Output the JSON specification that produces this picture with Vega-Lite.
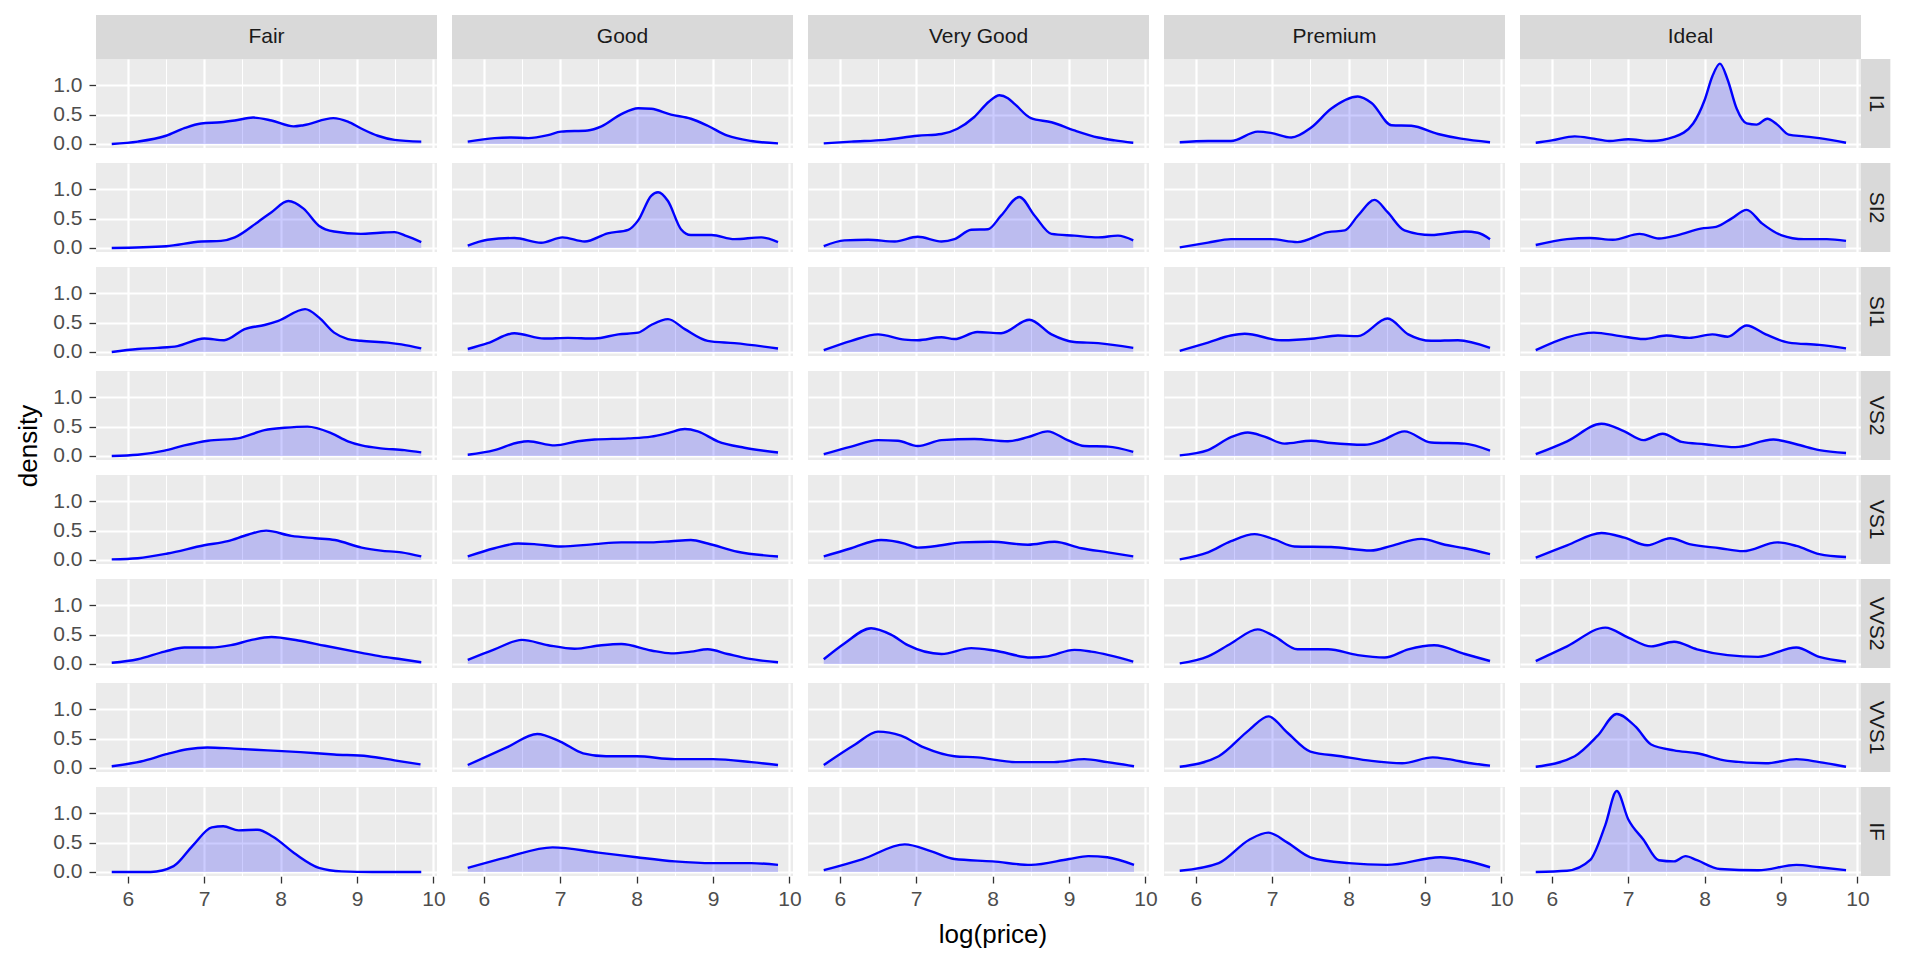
{
"$schema": "https://vega.github.io/schema/vega-lite/v6.json",
"padding": {"left": 15, "top": 15, "right": 0, "bottom": 0},
"bounds": "flush",
"spacing": {"row": 15, "column": 15},
"data": {"values": [
{"cut":"Fair","clarity":"I1","x":5.79,"d":0},{"cut":"Fair","clarity":"I1","x":6.13,"d":0.04},{"cut":"Fair","clarity":"I1","x":6.5,"d":0.14},{"cut":"Fair","clarity":"I1","x":6.74,"d":0.27},{"cut":"Fair","clarity":"I1","x":6.96,"d":0.35},{"cut":"Fair","clarity":"I1","x":7.22,"d":0.37},{"cut":"Fair","clarity":"I1","x":7.4,"d":0.4},{"cut":"Fair","clarity":"I1","x":7.64,"d":0.45},{"cut":"Fair","clarity":"I1","x":7.88,"d":0.4},{"cut":"Fair","clarity":"I1","x":8.17,"d":0.3},{"cut":"Fair","clarity":"I1","x":8.3,"d":0.32},{"cut":"Fair","clarity":"I1","x":8.69,"d":0.44},{"cut":"Fair","clarity":"I1","x":8.88,"d":0.38},{"cut":"Fair","clarity":"I1","x":9.06,"d":0.26},{"cut":"Fair","clarity":"I1","x":9.27,"d":0.14},{"cut":"Fair","clarity":"I1","x":9.49,"d":0.07},{"cut":"Fair","clarity":"I1","x":9.84,"d":0.04},
{"cut":"Fair","clarity":"SI2","x":5.79,"d":0},{"cut":"Fair","clarity":"SI2","x":6.5,"d":0.03},{"cut":"Fair","clarity":"SI2","x":6.96,"d":0.11},{"cut":"Fair","clarity":"SI2","x":7.22,"d":0.12},{"cut":"Fair","clarity":"SI2","x":7.4,"d":0.18},{"cut":"Fair","clarity":"SI2","x":7.7,"d":0.44},{"cut":"Fair","clarity":"SI2","x":7.88,"d":0.61},{"cut":"Fair","clarity":"SI2","x":8.1,"d":0.8},{"cut":"Fair","clarity":"SI2","x":8.3,"d":0.67},{"cut":"Fair","clarity":"SI2","x":8.5,"d":0.38},{"cut":"Fair","clarity":"SI2","x":8.7,"d":0.28},{"cut":"Fair","clarity":"SI2","x":9.05,"d":0.24},{"cut":"Fair","clarity":"SI2","x":9.3,"d":0.26},{"cut":"Fair","clarity":"SI2","x":9.49,"d":0.27},{"cut":"Fair","clarity":"SI2","x":9.65,"d":0.2},{"cut":"Fair","clarity":"SI2","x":9.84,"d":0.1},
{"cut":"Fair","clarity":"SI1","x":5.79,"d":0},{"cut":"Fair","clarity":"SI1","x":6.13,"d":0.05},{"cut":"Fair","clarity":"SI1","x":6.39,"d":0.07},{"cut":"Fair","clarity":"SI1","x":6.65,"d":0.1},{"cut":"Fair","clarity":"SI1","x":7.0,"d":0.23},{"cut":"Fair","clarity":"SI1","x":7.26,"d":0.2},{"cut":"Fair","clarity":"SI1","x":7.53,"d":0.39},{"cut":"Fair","clarity":"SI1","x":7.79,"d":0.46},{"cut":"Fair","clarity":"SI1","x":7.97,"d":0.53},{"cut":"Fair","clarity":"SI1","x":8.32,"d":0.73},{"cut":"Fair","clarity":"SI1","x":8.5,"d":0.59},{"cut":"Fair","clarity":"SI1","x":8.7,"d":0.33},{"cut":"Fair","clarity":"SI1","x":8.88,"d":0.22},{"cut":"Fair","clarity":"SI1","x":9.05,"d":0.19},{"cut":"Fair","clarity":"SI1","x":9.4,"d":0.16},{"cut":"Fair","clarity":"SI1","x":9.58,"d":0.13},{"cut":"Fair","clarity":"SI1","x":9.84,"d":0.06},
{"cut":"Fair","clarity":"VS2","x":5.79,"d":0},{"cut":"Fair","clarity":"VS2","x":6.13,"d":0.02},{"cut":"Fair","clarity":"VS2","x":6.48,"d":0.09},{"cut":"Fair","clarity":"VS2","x":6.74,"d":0.18},{"cut":"Fair","clarity":"VS2","x":7.05,"d":0.26},{"cut":"Fair","clarity":"VS2","x":7.44,"d":0.3},{"cut":"Fair","clarity":"VS2","x":7.79,"d":0.44},{"cut":"Fair","clarity":"VS2","x":8.05,"d":0.48},{"cut":"Fair","clarity":"VS2","x":8.35,"d":0.5},{"cut":"Fair","clarity":"VS2","x":8.66,"d":0.39},{"cut":"Fair","clarity":"VS2","x":8.88,"d":0.25},{"cut":"Fair","clarity":"VS2","x":9.06,"d":0.18},{"cut":"Fair","clarity":"VS2","x":9.31,"d":0.13},{"cut":"Fair","clarity":"VS2","x":9.62,"d":0.1},{"cut":"Fair","clarity":"VS2","x":9.84,"d":0.06},
{"cut":"Fair","clarity":"VS1","x":5.79,"d":0.01},{"cut":"Fair","clarity":"VS1","x":6.13,"d":0.03},{"cut":"Fair","clarity":"VS1","x":6.52,"d":0.11},{"cut":"Fair","clarity":"VS1","x":7.0,"d":0.25},{"cut":"Fair","clarity":"VS1","x":7.31,"d":0.32},{"cut":"Fair","clarity":"VS1","x":7.57,"d":0.43},{"cut":"Fair","clarity":"VS1","x":7.81,"d":0.5},{"cut":"Fair","clarity":"VS1","x":8.14,"d":0.41},{"cut":"Fair","clarity":"VS1","x":8.45,"d":0.37},{"cut":"Fair","clarity":"VS1","x":8.71,"d":0.34},{"cut":"Fair","clarity":"VS1","x":9.06,"d":0.21},{"cut":"Fair","clarity":"VS1","x":9.31,"d":0.16},{"cut":"Fair","clarity":"VS1","x":9.58,"d":0.13},{"cut":"Fair","clarity":"VS1","x":9.84,"d":0.06},
{"cut":"Fair","clarity":"VVS2","x":5.79,"d":0.02},{"cut":"Fair","clarity":"VVS2","x":6.13,"d":0.08},{"cut":"Fair","clarity":"VVS2","x":6.48,"d":0.21},{"cut":"Fair","clarity":"VVS2","x":6.74,"d":0.28},{"cut":"Fair","clarity":"VVS2","x":7.09,"d":0.28},{"cut":"Fair","clarity":"VVS2","x":7.35,"d":0.32},{"cut":"Fair","clarity":"VVS2","x":7.62,"d":0.41},{"cut":"Fair","clarity":"VVS2","x":7.88,"d":0.46},{"cut":"Fair","clarity":"VVS2","x":8.23,"d":0.4},{"cut":"Fair","clarity":"VVS2","x":8.58,"d":0.31},{"cut":"Fair","clarity":"VVS2","x":9.06,"d":0.19},{"cut":"Fair","clarity":"VVS2","x":9.31,"d":0.13},{"cut":"Fair","clarity":"VVS2","x":9.58,"d":0.08},{"cut":"Fair","clarity":"VVS2","x":9.84,"d":0.03},
{"cut":"Fair","clarity":"VVS1","x":5.79,"d":0.03},{"cut":"Fair","clarity":"VVS1","x":6.17,"d":0.11},{"cut":"Fair","clarity":"VVS1","x":6.52,"d":0.24},{"cut":"Fair","clarity":"VVS1","x":6.78,"d":0.32},{"cut":"Fair","clarity":"VVS1","x":7.04,"d":0.35},{"cut":"Fair","clarity":"VVS1","x":7.39,"d":0.33},{"cut":"Fair","clarity":"VVS1","x":7.83,"d":0.3},{"cut":"Fair","clarity":"VVS1","x":8.26,"d":0.27},{"cut":"Fair","clarity":"VVS1","x":8.7,"d":0.23},{"cut":"Fair","clarity":"VVS1","x":9.14,"d":0.2},{"cut":"Fair","clarity":"VVS1","x":9.49,"d":0.13},{"cut":"Fair","clarity":"VVS1","x":9.83,"d":0.06},
{"cut":"Fair","clarity":"IF","x":5.79,"d":0},{"cut":"Fair","clarity":"IF","x":6.3,"d":0},{"cut":"Fair","clarity":"IF","x":6.6,"d":0.1},{"cut":"Fair","clarity":"IF","x":6.85,"d":0.45},{"cut":"Fair","clarity":"IF","x":7.1,"d":0.76},{"cut":"Fair","clarity":"IF","x":7.25,"d":0.78},{"cut":"Fair","clarity":"IF","x":7.45,"d":0.71},{"cut":"Fair","clarity":"IF","x":7.7,"d":0.72},{"cut":"Fair","clarity":"IF","x":7.9,"d":0.6},{"cut":"Fair","clarity":"IF","x":8.2,"d":0.3},{"cut":"Fair","clarity":"IF","x":8.5,"d":0.07},{"cut":"Fair","clarity":"IF","x":8.8,"d":0.01},{"cut":"Fair","clarity":"IF","x":9.2,"d":0},{"cut":"Fair","clarity":"IF","x":9.84,"d":0},
{"cut":"Good","clarity":"I1","x":5.79,"d":0.04},{"cut":"Good","clarity":"I1","x":6.14,"d":0.1},{"cut":"Good","clarity":"I1","x":6.36,"d":0.11},{"cut":"Good","clarity":"I1","x":6.58,"d":0.1},{"cut":"Good","clarity":"I1","x":6.84,"d":0.15},{"cut":"Good","clarity":"I1","x":7.01,"d":0.21},{"cut":"Good","clarity":"I1","x":7.36,"d":0.23},{"cut":"Good","clarity":"I1","x":7.54,"d":0.3},{"cut":"Good","clarity":"I1","x":7.8,"d":0.51},{"cut":"Good","clarity":"I1","x":8.02,"d":0.61},{"cut":"Good","clarity":"I1","x":8.19,"d":0.6},{"cut":"Good","clarity":"I1","x":8.45,"d":0.5},{"cut":"Good","clarity":"I1","x":8.71,"d":0.43},{"cut":"Good","clarity":"I1","x":8.93,"d":0.31},{"cut":"Good","clarity":"I1","x":9.19,"d":0.14},{"cut":"Good","clarity":"I1","x":9.5,"d":0.05},{"cut":"Good","clarity":"I1","x":9.85,"d":0.01},
{"cut":"Good","clarity":"SI2","x":5.79,"d":0.04},{"cut":"Good","clarity":"SI2","x":6.05,"d":0.14},{"cut":"Good","clarity":"SI2","x":6.4,"d":0.17},{"cut":"Good","clarity":"SI2","x":6.75,"d":0.09},{"cut":"Good","clarity":"SI2","x":7.03,"d":0.18},{"cut":"Good","clarity":"SI2","x":7.32,"d":0.11},{"cut":"Good","clarity":"SI2","x":7.62,"d":0.25},{"cut":"Good","clarity":"SI2","x":7.89,"d":0.31},{"cut":"Good","clarity":"SI2","x":8.02,"d":0.47},{"cut":"Good","clarity":"SI2","x":8.19,"d":0.89},{"cut":"Good","clarity":"SI2","x":8.28,"d":0.95},{"cut":"Good","clarity":"SI2","x":8.41,"d":0.8},{"cut":"Good","clarity":"SI2","x":8.58,"d":0.32},{"cut":"Good","clarity":"SI2","x":8.71,"d":0.22},{"cut":"Good","clarity":"SI2","x":8.98,"d":0.22},{"cut":"Good","clarity":"SI2","x":9.28,"d":0.15},{"cut":"Good","clarity":"SI2","x":9.63,"d":0.18},{"cut":"Good","clarity":"SI2","x":9.85,"d":0.1},
{"cut":"Good","clarity":"SI1","x":5.79,"d":0.05},{"cut":"Good","clarity":"SI1","x":6.05,"d":0.15},{"cut":"Good","clarity":"SI1","x":6.4,"d":0.32},{"cut":"Good","clarity":"SI1","x":6.79,"d":0.23},{"cut":"Good","clarity":"SI1","x":7.1,"d":0.24},{"cut":"Good","clarity":"SI1","x":7.45,"d":0.23},{"cut":"Good","clarity":"SI1","x":7.76,"d":0.3},{"cut":"Good","clarity":"SI1","x":8.02,"d":0.33},{"cut":"Good","clarity":"SI1","x":8.19,"d":0.46},{"cut":"Good","clarity":"SI1","x":8.41,"d":0.56},{"cut":"Good","clarity":"SI1","x":8.63,"d":0.39},{"cut":"Good","clarity":"SI1","x":8.93,"d":0.19},{"cut":"Good","clarity":"SI1","x":9.28,"d":0.15},{"cut":"Good","clarity":"SI1","x":9.85,"d":0.06},
{"cut":"Good","clarity":"VS2","x":5.79,"d":0.02},{"cut":"Good","clarity":"VS2","x":6.14,"d":0.1},{"cut":"Good","clarity":"VS2","x":6.45,"d":0.23},{"cut":"Good","clarity":"VS2","x":6.58,"d":0.25},{"cut":"Good","clarity":"VS2","x":6.93,"d":0.18},{"cut":"Good","clarity":"VS2","x":7.23,"d":0.25},{"cut":"Good","clarity":"VS2","x":7.45,"d":0.28},{"cut":"Good","clarity":"VS2","x":7.89,"d":0.3},{"cut":"Good","clarity":"VS2","x":8.19,"d":0.33},{"cut":"Good","clarity":"VS2","x":8.41,"d":0.39},{"cut":"Good","clarity":"VS2","x":8.63,"d":0.46},{"cut":"Good","clarity":"VS2","x":8.8,"d":0.42},{"cut":"Good","clarity":"VS2","x":9.06,"d":0.25},{"cut":"Good","clarity":"VS2","x":9.41,"d":0.14},{"cut":"Good","clarity":"VS2","x":9.85,"d":0.06},
{"cut":"Good","clarity":"VS1","x":5.79,"d":0.06},{"cut":"Good","clarity":"VS1","x":6.14,"d":0.2},{"cut":"Good","clarity":"VS1","x":6.45,"d":0.28},{"cut":"Good","clarity":"VS1","x":6.66,"d":0.27},{"cut":"Good","clarity":"VS1","x":7.01,"d":0.23},{"cut":"Good","clarity":"VS1","x":7.45,"d":0.27},{"cut":"Good","clarity":"VS1","x":7.8,"d":0.3},{"cut":"Good","clarity":"VS1","x":8.19,"d":0.3},{"cut":"Good","clarity":"VS1","x":8.45,"d":0.32},{"cut":"Good","clarity":"VS1","x":8.71,"d":0.34},{"cut":"Good","clarity":"VS1","x":8.93,"d":0.28},{"cut":"Good","clarity":"VS1","x":9.32,"d":0.14},{"cut":"Good","clarity":"VS1","x":9.85,"d":0.06},
{"cut":"Good","clarity":"VVS2","x":5.79,"d":0.07},{"cut":"Good","clarity":"VVS2","x":6.14,"d":0.25},{"cut":"Good","clarity":"VVS2","x":6.5,"d":0.41},{"cut":"Good","clarity":"VVS2","x":6.84,"d":0.32},{"cut":"Good","clarity":"VVS2","x":7.19,"d":0.26},{"cut":"Good","clarity":"VVS2","x":7.54,"d":0.32},{"cut":"Good","clarity":"VVS2","x":7.8,"d":0.34},{"cut":"Good","clarity":"VVS2","x":8.19,"d":0.23},{"cut":"Good","clarity":"VVS2","x":8.45,"d":0.18},{"cut":"Good","clarity":"VVS2","x":8.71,"d":0.21},{"cut":"Good","clarity":"VVS2","x":8.93,"d":0.25},{"cut":"Good","clarity":"VVS2","x":9.19,"d":0.17},{"cut":"Good","clarity":"VVS2","x":9.46,"d":0.09},{"cut":"Good","clarity":"VVS2","x":9.85,"d":0.03},
{"cut":"Good","clarity":"VVS1","x":5.79,"d":0.05},{"cut":"Good","clarity":"VVS1","x":6.3,"d":0.35},{"cut":"Good","clarity":"VVS1","x":6.7,"d":0.58},{"cut":"Good","clarity":"VVS1","x":7.0,"d":0.45},{"cut":"Good","clarity":"VVS1","x":7.3,"d":0.25},{"cut":"Good","clarity":"VVS1","x":7.6,"d":0.2},{"cut":"Good","clarity":"VVS1","x":8.0,"d":0.2},{"cut":"Good","clarity":"VVS1","x":8.5,"d":0.15},{"cut":"Good","clarity":"VVS1","x":9.0,"d":0.15},{"cut":"Good","clarity":"VVS1","x":9.5,"d":0.1},{"cut":"Good","clarity":"VVS1","x":9.85,"d":0.05},
{"cut":"Good","clarity":"IF","x":5.79,"d":0.07},{"cut":"Good","clarity":"IF","x":6.3,"d":0.25},{"cut":"Good","clarity":"IF","x":6.9,"d":0.42},{"cut":"Good","clarity":"IF","x":7.5,"d":0.33},{"cut":"Good","clarity":"IF","x":8.0,"d":0.25},{"cut":"Good","clarity":"IF","x":8.5,"d":0.18},{"cut":"Good","clarity":"IF","x":9.0,"d":0.15},{"cut":"Good","clarity":"IF","x":9.5,"d":0.15},{"cut":"Good","clarity":"IF","x":9.85,"d":0.12},
{"cut":"Very Good","clarity":"I1","x":5.79,"d":0.01},{"cut":"Very Good","clarity":"I1","x":6.15,"d":0.04},{"cut":"Very Good","clarity":"I1","x":6.59,"d":0.07},{"cut":"Very Good","clarity":"I1","x":7.02,"d":0.14},{"cut":"Very Good","clarity":"I1","x":7.33,"d":0.17},{"cut":"Very Good","clarity":"I1","x":7.54,"d":0.26},{"cut":"Very Good","clarity":"I1","x":7.76,"d":0.46},{"cut":"Very Good","clarity":"I1","x":7.95,"d":0.72},{"cut":"Very Good","clarity":"I1","x":8.09,"d":0.83},{"cut":"Very Good","clarity":"I1","x":8.2,"d":0.78},{"cut":"Very Good","clarity":"I1","x":8.29,"d":0.68},{"cut":"Very Good","clarity":"I1","x":8.5,"d":0.44},{"cut":"Very Good","clarity":"I1","x":8.77,"d":0.37},{"cut":"Very Good","clarity":"I1","x":9.07,"d":0.23},{"cut":"Very Good","clarity":"I1","x":9.38,"d":0.11},{"cut":"Very Good","clarity":"I1","x":9.6,"d":0.06},{"cut":"Very Good","clarity":"I1","x":9.84,"d":0.02},
{"cut":"Very Good","clarity":"SI2","x":5.79,"d":0.03},{"cut":"Very Good","clarity":"SI2","x":6.06,"d":0.13},{"cut":"Very Good","clarity":"SI2","x":6.37,"d":0.14},{"cut":"Very Good","clarity":"SI2","x":6.72,"d":0.11},{"cut":"Very Good","clarity":"SI2","x":7.02,"d":0.19},{"cut":"Very Good","clarity":"SI2","x":7.33,"d":0.11},{"cut":"Very Good","clarity":"SI2","x":7.5,"d":0.15},{"cut":"Very Good","clarity":"SI2","x":7.72,"d":0.31},{"cut":"Very Good","clarity":"SI2","x":7.94,"d":0.32},{"cut":"Very Good","clarity":"SI2","x":8.11,"d":0.55},{"cut":"Very Good","clarity":"SI2","x":8.35,"d":0.87},{"cut":"Very Good","clarity":"SI2","x":8.55,"d":0.55},{"cut":"Very Good","clarity":"SI2","x":8.77,"d":0.24},{"cut":"Very Good","clarity":"SI2","x":9.07,"d":0.21},{"cut":"Very Good","clarity":"SI2","x":9.38,"d":0.18},{"cut":"Very Good","clarity":"SI2","x":9.64,"d":0.21},{"cut":"Very Good","clarity":"SI2","x":9.84,"d":0.13},
{"cut":"Very Good","clarity":"SI1","x":5.79,"d":0.03},{"cut":"Very Good","clarity":"SI1","x":6.15,"d":0.19},{"cut":"Very Good","clarity":"SI1","x":6.5,"d":0.3},{"cut":"Very Good","clarity":"SI1","x":6.85,"d":0.21},{"cut":"Very Good","clarity":"SI1","x":7.02,"d":0.2},{"cut":"Very Good","clarity":"SI1","x":7.33,"d":0.25},{"cut":"Very Good","clarity":"SI1","x":7.5,"d":0.22},{"cut":"Very Good","clarity":"SI1","x":7.8,"d":0.34},{"cut":"Very Good","clarity":"SI1","x":8.11,"d":0.32},{"cut":"Very Good","clarity":"SI1","x":8.48,"d":0.55},{"cut":"Very Good","clarity":"SI1","x":8.77,"d":0.3},{"cut":"Very Good","clarity":"SI1","x":9.07,"d":0.17},{"cut":"Very Good","clarity":"SI1","x":9.38,"d":0.15},{"cut":"Very Good","clarity":"SI1","x":9.84,"d":0.07},
{"cut":"Very Good","clarity":"VS2","x":5.79,"d":0.03},{"cut":"Very Good","clarity":"VS2","x":6.15,"d":0.16},{"cut":"Very Good","clarity":"VS2","x":6.5,"d":0.27},{"cut":"Very Good","clarity":"VS2","x":6.76,"d":0.26},{"cut":"Very Good","clarity":"VS2","x":7.02,"d":0.17},{"cut":"Very Good","clarity":"VS2","x":7.33,"d":0.27},{"cut":"Very Good","clarity":"VS2","x":7.76,"d":0.29},{"cut":"Very Good","clarity":"VS2","x":8.2,"d":0.25},{"cut":"Very Good","clarity":"VS2","x":8.46,"d":0.32},{"cut":"Very Good","clarity":"VS2","x":8.72,"d":0.42},{"cut":"Very Good","clarity":"VS2","x":8.98,"d":0.27},{"cut":"Very Good","clarity":"VS2","x":9.2,"d":0.17},{"cut":"Very Good","clarity":"VS2","x":9.51,"d":0.16},{"cut":"Very Good","clarity":"VS2","x":9.84,"d":0.07},
{"cut":"Very Good","clarity":"VS1","x":5.79,"d":0.06},{"cut":"Very Good","clarity":"VS1","x":6.15,"d":0.2},{"cut":"Very Good","clarity":"VS1","x":6.54,"d":0.34},{"cut":"Very Good","clarity":"VS1","x":6.85,"d":0.28},{"cut":"Very Good","clarity":"VS1","x":7.02,"d":0.21},{"cut":"Very Good","clarity":"VS1","x":7.33,"d":0.25},{"cut":"Very Good","clarity":"VS1","x":7.59,"d":0.3},{"cut":"Very Good","clarity":"VS1","x":7.98,"d":0.31},{"cut":"Very Good","clarity":"VS1","x":8.46,"d":0.26},{"cut":"Very Good","clarity":"VS1","x":8.81,"d":0.31},{"cut":"Very Good","clarity":"VS1","x":9.16,"d":0.2},{"cut":"Very Good","clarity":"VS1","x":9.51,"d":0.13},{"cut":"Very Good","clarity":"VS1","x":9.84,"d":0.06},
{"cut":"Very Good","clarity":"VVS2","x":5.79,"d":0.08},{"cut":"Very Good","clarity":"VVS2","x":6.06,"d":0.35},{"cut":"Very Good","clarity":"VVS2","x":6.41,"d":0.61},{"cut":"Very Good","clarity":"VVS2","x":6.67,"d":0.5},{"cut":"Very Good","clarity":"VVS2","x":6.89,"d":0.32},{"cut":"Very Good","clarity":"VVS2","x":7.33,"d":0.17},{"cut":"Very Good","clarity":"VVS2","x":7.72,"d":0.27},{"cut":"Very Good","clarity":"VVS2","x":8.02,"d":0.23},{"cut":"Very Good","clarity":"VVS2","x":8.5,"d":0.11},{"cut":"Very Good","clarity":"VVS2","x":8.72,"d":0.13},{"cut":"Very Good","clarity":"VVS2","x":9.07,"d":0.24},{"cut":"Very Good","clarity":"VVS2","x":9.29,"d":0.21},{"cut":"Very Good","clarity":"VVS2","x":9.84,"d":0.04},
{"cut":"Very Good","clarity":"VVS1","x":5.79,"d":0.05},{"cut":"Very Good","clarity":"VVS1","x":6.2,"d":0.4},{"cut":"Very Good","clarity":"VVS1","x":6.5,"d":0.62},{"cut":"Very Good","clarity":"VVS1","x":6.8,"d":0.55},{"cut":"Very Good","clarity":"VVS1","x":7.1,"d":0.35},{"cut":"Very Good","clarity":"VVS1","x":7.5,"d":0.2},{"cut":"Very Good","clarity":"VVS1","x":7.8,"d":0.18},{"cut":"Very Good","clarity":"VVS1","x":8.3,"d":0.1},{"cut":"Very Good","clarity":"VVS1","x":8.8,"d":0.1},{"cut":"Very Good","clarity":"VVS1","x":9.2,"d":0.15},{"cut":"Very Good","clarity":"VVS1","x":9.5,"d":0.1},{"cut":"Very Good","clarity":"VVS1","x":9.85,"d":0.03},
{"cut":"Very Good","clarity":"IF","x":5.79,"d":0.03},{"cut":"Very Good","clarity":"IF","x":6.3,"d":0.22},{"cut":"Very Good","clarity":"IF","x":6.85,"d":0.47},{"cut":"Very Good","clarity":"IF","x":7.2,"d":0.35},{"cut":"Very Good","clarity":"IF","x":7.5,"d":0.22},{"cut":"Very Good","clarity":"IF","x":8.0,"d":0.18},{"cut":"Very Good","clarity":"IF","x":8.5,"d":0.12},{"cut":"Very Good","clarity":"IF","x":9.0,"d":0.22},{"cut":"Very Good","clarity":"IF","x":9.25,"d":0.27},{"cut":"Very Good","clarity":"IF","x":9.5,"d":0.25},{"cut":"Very Good","clarity":"IF","x":9.85,"d":0.12},
{"cut":"Premium","clarity":"I1","x":5.79,"d":0.03},{"cut":"Premium","clarity":"I1","x":6.16,"d":0.05},{"cut":"Premium","clarity":"I1","x":6.46,"d":0.05},{"cut":"Premium","clarity":"I1","x":6.81,"d":0.21},{"cut":"Premium","clarity":"I1","x":6.98,"d":0.19},{"cut":"Premium","clarity":"I1","x":7.25,"d":0.11},{"cut":"Premium","clarity":"I1","x":7.51,"d":0.28},{"cut":"Premium","clarity":"I1","x":7.77,"d":0.6},{"cut":"Premium","clarity":"I1","x":8.12,"d":0.81},{"cut":"Premium","clarity":"I1","x":8.3,"d":0.7},{"cut":"Premium","clarity":"I1","x":8.56,"d":0.32},{"cut":"Premium","clarity":"I1","x":8.82,"d":0.31},{"cut":"Premium","clarity":"I1","x":9.17,"d":0.17},{"cut":"Premium","clarity":"I1","x":9.47,"d":0.09},{"cut":"Premium","clarity":"I1","x":9.85,"d":0.03},
{"cut":"Premium","clarity":"SI2","x":5.79,"d":0.01},{"cut":"Premium","clarity":"SI2","x":6.16,"d":0.09},{"cut":"Premium","clarity":"SI2","x":6.46,"d":0.15},{"cut":"Premium","clarity":"SI2","x":6.98,"d":0.15},{"cut":"Premium","clarity":"SI2","x":7.33,"d":0.1},{"cut":"Premium","clarity":"SI2","x":7.73,"d":0.27},{"cut":"Premium","clarity":"SI2","x":7.95,"d":0.3},{"cut":"Premium","clarity":"SI2","x":8.12,"d":0.55},{"cut":"Premium","clarity":"SI2","x":8.34,"d":0.82},{"cut":"Premium","clarity":"SI2","x":8.51,"d":0.61},{"cut":"Premium","clarity":"SI2","x":8.73,"d":0.3},{"cut":"Premium","clarity":"SI2","x":9.08,"d":0.22},{"cut":"Premium","clarity":"SI2","x":9.52,"d":0.28},{"cut":"Premium","clarity":"SI2","x":9.69,"d":0.26},{"cut":"Premium","clarity":"SI2","x":9.85,"d":0.15},
{"cut":"Premium","clarity":"SI1","x":5.79,"d":0.02},{"cut":"Premium","clarity":"SI1","x":6.16,"d":0.16},{"cut":"Premium","clarity":"SI1","x":6.46,"d":0.28},{"cut":"Premium","clarity":"SI1","x":6.64,"d":0.31},{"cut":"Premium","clarity":"SI1","x":7.12,"d":0.2},{"cut":"Premium","clarity":"SI1","x":7.55,"d":0.23},{"cut":"Premium","clarity":"SI1","x":7.86,"d":0.28},{"cut":"Premium","clarity":"SI1","x":8.12,"d":0.27},{"cut":"Premium","clarity":"SI1","x":8.51,"d":0.57},{"cut":"Premium","clarity":"SI1","x":8.78,"d":0.3},{"cut":"Premium","clarity":"SI1","x":9.08,"d":0.19},{"cut":"Premium","clarity":"SI1","x":9.43,"d":0.2},{"cut":"Premium","clarity":"SI1","x":9.85,"d":0.07},
{"cut":"Premium","clarity":"VS2","x":5.79,"d":0.01},{"cut":"Premium","clarity":"VS2","x":6.16,"d":0.1},{"cut":"Premium","clarity":"VS2","x":6.46,"d":0.32},{"cut":"Premium","clarity":"VS2","x":6.68,"d":0.4},{"cut":"Premium","clarity":"VS2","x":6.9,"d":0.33},{"cut":"Premium","clarity":"VS2","x":7.16,"d":0.21},{"cut":"Premium","clarity":"VS2","x":7.51,"d":0.26},{"cut":"Premium","clarity":"VS2","x":7.77,"d":0.22},{"cut":"Premium","clarity":"VS2","x":8.21,"d":0.19},{"cut":"Premium","clarity":"VS2","x":8.43,"d":0.26},{"cut":"Premium","clarity":"VS2","x":8.73,"d":0.42},{"cut":"Premium","clarity":"VS2","x":9.08,"d":0.23},{"cut":"Premium","clarity":"VS2","x":9.52,"d":0.21},{"cut":"Premium","clarity":"VS2","x":9.85,"d":0.09},
{"cut":"Premium","clarity":"VS1","x":5.79,"d":0.01},{"cut":"Premium","clarity":"VS1","x":6.16,"d":0.13},{"cut":"Premium","clarity":"VS1","x":6.46,"d":0.32},{"cut":"Premium","clarity":"VS1","x":6.77,"d":0.44},{"cut":"Premium","clarity":"VS1","x":7.03,"d":0.35},{"cut":"Premium","clarity":"VS1","x":7.29,"d":0.23},{"cut":"Premium","clarity":"VS1","x":7.77,"d":0.22},{"cut":"Premium","clarity":"VS1","x":8.29,"d":0.16},{"cut":"Premium","clarity":"VS1","x":8.56,"d":0.24},{"cut":"Premium","clarity":"VS1","x":8.95,"d":0.36},{"cut":"Premium","clarity":"VS1","x":9.26,"d":0.26},{"cut":"Premium","clarity":"VS1","x":9.52,"d":0.2},{"cut":"Premium","clarity":"VS1","x":9.85,"d":0.1},
{"cut":"Premium","clarity":"VVS2","x":5.79,"d":0.01},{"cut":"Premium","clarity":"VVS2","x":6.16,"d":0.13},{"cut":"Premium","clarity":"VVS2","x":6.46,"d":0.35},{"cut":"Premium","clarity":"VVS2","x":6.81,"d":0.59},{"cut":"Premium","clarity":"VVS2","x":7.03,"d":0.47},{"cut":"Premium","clarity":"VVS2","x":7.33,"d":0.25},{"cut":"Premium","clarity":"VVS2","x":7.73,"d":0.25},{"cut":"Premium","clarity":"VVS2","x":8.12,"d":0.15},{"cut":"Premium","clarity":"VVS2","x":8.47,"d":0.11},{"cut":"Premium","clarity":"VVS2","x":8.78,"d":0.25},{"cut":"Premium","clarity":"VVS2","x":9.12,"d":0.32},{"cut":"Premium","clarity":"VVS2","x":9.52,"d":0.17},{"cut":"Premium","clarity":"VVS2","x":9.85,"d":0.05},
{"cut":"Premium","clarity":"VVS1","x":5.79,"d":0.02},{"cut":"Premium","clarity":"VVS1","x":6.3,"d":0.2},{"cut":"Premium","clarity":"VVS1","x":6.7,"d":0.65},{"cut":"Premium","clarity":"VVS1","x":6.95,"d":0.88},{"cut":"Premium","clarity":"VVS1","x":7.2,"d":0.6},{"cut":"Premium","clarity":"VVS1","x":7.5,"d":0.28},{"cut":"Premium","clarity":"VVS1","x":7.9,"d":0.2},{"cut":"Premium","clarity":"VVS1","x":8.3,"d":0.12},{"cut":"Premium","clarity":"VVS1","x":8.7,"d":0.08},{"cut":"Premium","clarity":"VVS1","x":9.1,"d":0.18},{"cut":"Premium","clarity":"VVS1","x":9.3,"d":0.15},{"cut":"Premium","clarity":"VVS1","x":9.6,"d":0.08},{"cut":"Premium","clarity":"VVS1","x":9.85,"d":0.04},
{"cut":"Premium","clarity":"IF","x":5.79,"d":0.02},{"cut":"Premium","clarity":"IF","x":6.3,"d":0.15},{"cut":"Premium","clarity":"IF","x":6.7,"d":0.55},{"cut":"Premium","clarity":"IF","x":6.95,"d":0.67},{"cut":"Premium","clarity":"IF","x":7.2,"d":0.5},{"cut":"Premium","clarity":"IF","x":7.5,"d":0.25},{"cut":"Premium","clarity":"IF","x":8.0,"d":0.15},{"cut":"Premium","clarity":"IF","x":8.5,"d":0.12},{"cut":"Premium","clarity":"IF","x":9.2,"d":0.25},{"cut":"Premium","clarity":"IF","x":9.5,"d":0.2},{"cut":"Premium","clarity":"IF","x":9.85,"d":0.08},
{"cut":"Ideal","clarity":"I1","x":5.79,"d":0.02},{"cut":"Ideal","clarity":"I1","x":6.0,"d":0.06},{"cut":"Ideal","clarity":"I1","x":6.3,"d":0.13},{"cut":"Ideal","clarity":"I1","x":6.55,"d":0.09},{"cut":"Ideal","clarity":"I1","x":6.75,"d":0.05},{"cut":"Ideal","clarity":"I1","x":7.0,"d":0.08},{"cut":"Ideal","clarity":"I1","x":7.3,"d":0.05},{"cut":"Ideal","clarity":"I1","x":7.6,"d":0.12},{"cut":"Ideal","clarity":"I1","x":7.85,"d":0.35},{"cut":"Ideal","clarity":"I1","x":8.0,"d":0.75},{"cut":"Ideal","clarity":"I1","x":8.1,"d":1.15},{"cut":"Ideal","clarity":"I1","x":8.2,"d":1.37},{"cut":"Ideal","clarity":"I1","x":8.3,"d":1.1},{"cut":"Ideal","clarity":"I1","x":8.42,"d":0.6},{"cut":"Ideal","clarity":"I1","x":8.55,"d":0.35},{"cut":"Ideal","clarity":"I1","x":8.68,"d":0.33},{"cut":"Ideal","clarity":"I1","x":8.82,"d":0.43},{"cut":"Ideal","clarity":"I1","x":8.95,"d":0.33},{"cut":"Ideal","clarity":"I1","x":9.1,"d":0.16},{"cut":"Ideal","clarity":"I1","x":9.3,"d":0.13},{"cut":"Ideal","clarity":"I1","x":9.5,"d":0.1},{"cut":"Ideal","clarity":"I1","x":9.85,"d":0.02},
{"cut":"Ideal","clarity":"SI2","x":5.79,"d":0.05},{"cut":"Ideal","clarity":"SI2","x":6.2,"d":0.15},{"cut":"Ideal","clarity":"SI2","x":6.5,"d":0.17},{"cut":"Ideal","clarity":"SI2","x":6.8,"d":0.14},{"cut":"Ideal","clarity":"SI2","x":7.15,"d":0.24},{"cut":"Ideal","clarity":"SI2","x":7.4,"d":0.16},{"cut":"Ideal","clarity":"SI2","x":7.65,"d":0.22},{"cut":"Ideal","clarity":"SI2","x":7.95,"d":0.33},{"cut":"Ideal","clarity":"SI2","x":8.15,"d":0.36},{"cut":"Ideal","clarity":"SI2","x":8.35,"d":0.5},{"cut":"Ideal","clarity":"SI2","x":8.55,"d":0.65},{"cut":"Ideal","clarity":"SI2","x":8.75,"d":0.42},{"cut":"Ideal","clarity":"SI2","x":9.0,"d":0.22},{"cut":"Ideal","clarity":"SI2","x":9.3,"d":0.15},{"cut":"Ideal","clarity":"SI2","x":9.6,"d":0.15},{"cut":"Ideal","clarity":"SI2","x":9.85,"d":0.12},
{"cut":"Ideal","clarity":"SI1","x":5.79,"d":0.03},{"cut":"Ideal","clarity":"SI1","x":6.2,"d":0.25},{"cut":"Ideal","clarity":"SI1","x":6.55,"d":0.33},{"cut":"Ideal","clarity":"SI1","x":6.9,"d":0.27},{"cut":"Ideal","clarity":"SI1","x":7.2,"d":0.22},{"cut":"Ideal","clarity":"SI1","x":7.5,"d":0.28},{"cut":"Ideal","clarity":"SI1","x":7.8,"d":0.24},{"cut":"Ideal","clarity":"SI1","x":8.1,"d":0.3},{"cut":"Ideal","clarity":"SI1","x":8.3,"d":0.26},{"cut":"Ideal","clarity":"SI1","x":8.55,"d":0.45},{"cut":"Ideal","clarity":"SI1","x":8.8,"d":0.3},{"cut":"Ideal","clarity":"SI1","x":9.1,"d":0.16},{"cut":"Ideal","clarity":"SI1","x":9.5,"d":0.12},{"cut":"Ideal","clarity":"SI1","x":9.85,"d":0.06},
{"cut":"Ideal","clarity":"VS2","x":5.79,"d":0.03},{"cut":"Ideal","clarity":"VS2","x":6.2,"d":0.25},{"cut":"Ideal","clarity":"VS2","x":6.65,"d":0.55},{"cut":"Ideal","clarity":"VS2","x":6.95,"d":0.42},{"cut":"Ideal","clarity":"VS2","x":7.2,"d":0.27},{"cut":"Ideal","clarity":"VS2","x":7.45,"d":0.38},{"cut":"Ideal","clarity":"VS2","x":7.7,"d":0.24},{"cut":"Ideal","clarity":"VS2","x":8.0,"d":0.2},{"cut":"Ideal","clarity":"VS2","x":8.4,"d":0.15},{"cut":"Ideal","clarity":"VS2","x":8.9,"d":0.28},{"cut":"Ideal","clarity":"VS2","x":9.2,"d":0.2},{"cut":"Ideal","clarity":"VS2","x":9.5,"d":0.1},{"cut":"Ideal","clarity":"VS2","x":9.85,"d":0.05},
{"cut":"Ideal","clarity":"VS1","x":5.79,"d":0.04},{"cut":"Ideal","clarity":"VS1","x":6.2,"d":0.25},{"cut":"Ideal","clarity":"VS1","x":6.65,"d":0.46},{"cut":"Ideal","clarity":"VS1","x":6.95,"d":0.38},{"cut":"Ideal","clarity":"VS1","x":7.25,"d":0.25},{"cut":"Ideal","clarity":"VS1","x":7.55,"d":0.37},{"cut":"Ideal","clarity":"VS1","x":7.8,"d":0.27},{"cut":"Ideal","clarity":"VS1","x":8.2,"d":0.2},{"cut":"Ideal","clarity":"VS1","x":8.5,"d":0.15},{"cut":"Ideal","clarity":"VS1","x":8.95,"d":0.3},{"cut":"Ideal","clarity":"VS1","x":9.2,"d":0.24},{"cut":"Ideal","clarity":"VS1","x":9.5,"d":0.1},{"cut":"Ideal","clarity":"VS1","x":9.85,"d":0.05},
{"cut":"Ideal","clarity":"VVS2","x":5.79,"d":0.05},{"cut":"Ideal","clarity":"VVS2","x":6.2,"d":0.3},{"cut":"Ideal","clarity":"VVS2","x":6.7,"d":0.62},{"cut":"Ideal","clarity":"VVS2","x":7.0,"d":0.45},{"cut":"Ideal","clarity":"VVS2","x":7.3,"d":0.3},{"cut":"Ideal","clarity":"VVS2","x":7.6,"d":0.38},{"cut":"Ideal","clarity":"VVS2","x":7.9,"d":0.25},{"cut":"Ideal","clarity":"VVS2","x":8.3,"d":0.15},{"cut":"Ideal","clarity":"VVS2","x":8.7,"d":0.12},{"cut":"Ideal","clarity":"VVS2","x":9.2,"d":0.28},{"cut":"Ideal","clarity":"VVS2","x":9.5,"d":0.12},{"cut":"Ideal","clarity":"VVS2","x":9.85,"d":0.04},
{"cut":"Ideal","clarity":"VVS1","x":5.79,"d":0.02},{"cut":"Ideal","clarity":"VVS1","x":6.3,"d":0.2},{"cut":"Ideal","clarity":"VVS1","x":6.6,"d":0.55},{"cut":"Ideal","clarity":"VVS1","x":6.85,"d":0.92},{"cut":"Ideal","clarity":"VVS1","x":7.1,"d":0.7},{"cut":"Ideal","clarity":"VVS1","x":7.3,"d":0.4},{"cut":"Ideal","clarity":"VVS1","x":7.6,"d":0.3},{"cut":"Ideal","clarity":"VVS1","x":7.9,"d":0.25},{"cut":"Ideal","clarity":"VVS1","x":8.3,"d":0.12},{"cut":"Ideal","clarity":"VVS1","x":8.8,"d":0.08},{"cut":"Ideal","clarity":"VVS1","x":9.2,"d":0.15},{"cut":"Ideal","clarity":"VVS1","x":9.5,"d":0.1},{"cut":"Ideal","clarity":"VVS1","x":9.85,"d":0.02},
{"cut":"Ideal","clarity":"IF","x":5.79,"d":0},{"cut":"Ideal","clarity":"IF","x":6.2,"d":0.02},{"cut":"Ideal","clarity":"IF","x":6.5,"d":0.2},{"cut":"Ideal","clarity":"IF","x":6.7,"d":0.8},{"cut":"Ideal","clarity":"IF","x":6.85,"d":1.38},{"cut":"Ideal","clarity":"IF","x":7.0,"d":0.9},{"cut":"Ideal","clarity":"IF","x":7.2,"d":0.55},{"cut":"Ideal","clarity":"IF","x":7.4,"d":0.2},{"cut":"Ideal","clarity":"IF","x":7.6,"d":0.18},{"cut":"Ideal","clarity":"IF","x":7.75,"d":0.27},{"cut":"Ideal","clarity":"IF","x":7.9,"d":0.2},{"cut":"Ideal","clarity":"IF","x":8.2,"d":0.05},{"cut":"Ideal","clarity":"IF","x":8.7,"d":0.03},{"cut":"Ideal","clarity":"IF","x":9.2,"d":0.12},{"cut":"Ideal","clarity":"IF","x":9.5,"d":0.08},{"cut":"Ideal","clarity":"IF","x":9.85,"d":0.03}
]},
"facet": {
  "row": {"field": "clarity", "type": "nominal", "sort": ["I1","SI2","SI1","VS2","VS1","VVS2","VVS1","IF"], "title": "density",
          "header": {"labels": false, "labelPadding": 0, "titleFontSize": 26, "titleFontWeight": "normal", "titleColor": "#000000", "titleFont": "Liberation Sans", "titlePadding": 0}},
  "column": {"field": "cut", "type": "nominal", "sort": ["Fair","Good","Very Good","Premium","Ideal"], "title": "log(price)",
          "header": {"labels": false, "labelPadding": 0, "orient": "bottom", "titleFontSize": 26, "titleFontWeight": "normal", "titleColor": "#000000", "titleFont": "Liberation Sans", "titlePadding": 3}}
},
"spec": {
  "width": 341,
  "height": 89,
  "layer": [
    {
      "mark": {"type": "area", "color": "blue", "fillOpacity": 0.2, "interpolate": "monotone"},
      "encoding": {
        "x": {"field": "x", "type": "quantitative", "scale": {"domain": [5.584, 10.046], "nice": false, "zero": false},
              "axis": {"title": null, "labelPadding": 5, "values": [6, 6.5, 7, 7.5, 8, 8.5, 9, 9.5, 10],
                       "labelExpr": "datum.value % 1 === 0 ? format(datum.value, 'd') : ''",
                       "gridWidth": {"condition": {"test": "datum.value % 1 !== 0", "value": 1.1}, "value": 2.2},
                       "tickColor": {"condition": {"test": "datum.value % 1 !== 0", "value": "transparent"}, "value": "#333333"}}},
        "y": {"field": "d", "type": "quantitative", "scale": {"domain": [-0.069, 1.449], "nice": false, "zero": false},
              "axis": {"title": null, "labelPadding": 7, "values": [0, 0.25, 0.5, 0.75, 1, 1.25],
                       "labelExpr": "(datum.value * 4) % 2 === 0 ? format(datum.value, '.1f') : ''",
                       "gridWidth": {"condition": {"test": "(datum.value * 4) % 2 === 1", "value": 1.1}, "value": 2.2},
                       "tickColor": {"condition": {"test": "(datum.value * 4) % 2 === 1", "value": "transparent"}, "value": "#333333"}}}
      }
    },
    {
      "mark": {"type": "line", "color": "blue", "strokeWidth": 2.4, "interpolate": "monotone"},
      "encoding": {
        "x": {"field": "x", "type": "quantitative", "scale": {"domain": [5.584, 10.046], "nice": false, "zero": false}},
        "y": {"field": "d", "type": "quantitative", "scale": {"domain": [-0.069, 1.449], "nice": false, "zero": false}}
      }
    },
    {
      "transform": [{"filter": "datum.clarity === 'I1'"}, {"aggregate": [{"op": "count", "as": "n"}], "groupby": ["cut", "clarity"]}],
      "mark": {"type": "rect", "color": "#d9d9d9"},
      "encoding": {
        "x": {"datum": 5.584, "type": "quantitative", "scale": {"domain": [5.584, 10.046], "nice": false, "zero": false}},
        "x2": {"datum": 10.046},
        "y": {"datum": 1.449, "type": "quantitative", "scale": {"domain": [-0.069, 1.449], "nice": false, "zero": false}},
        "y2": {"datum": 2.199}
      }
    },
    {
      "transform": [{"filter": "datum.clarity === 'I1'"}, {"aggregate": [{"op": "count", "as": "n"}], "groupby": ["cut", "clarity"]}],
      "mark": {"type": "text", "color": "#1a1a1a", "fontSize": 21, "align": "center", "baseline": "middle"},
      "encoding": {
        "x": {"datum": 7.815, "type": "quantitative", "scale": {"domain": [5.584, 10.046], "nice": false, "zero": false}},
        "y": {"datum": 1.824, "type": "quantitative", "scale": {"domain": [-0.069, 1.449], "nice": false, "zero": false}},
        "text": {"field": "cut", "type": "nominal"}
      }
    },
    {
      "transform": [{"filter": "datum.cut === 'Ideal'"}, {"aggregate": [{"op": "count", "as": "n"}], "groupby": ["cut", "clarity"]}],
      "mark": {"type": "rect", "color": "#d9d9d9"},
      "encoding": {
        "x": {"datum": 10.046, "type": "quantitative", "scale": {"domain": [5.584, 10.046], "nice": false, "zero": false}},
        "x2": {"datum": 10.43},
        "y": {"datum": -0.069, "type": "quantitative", "scale": {"domain": [-0.069, 1.449], "nice": false, "zero": false}},
        "y2": {"datum": 1.449}
      }
    },
    {
      "transform": [{"filter": "datum.cut === 'Ideal'"}, {"aggregate": [{"op": "count", "as": "n"}], "groupby": ["cut", "clarity"]}],
      "mark": {"type": "text", "color": "#1a1a1a", "fontSize": 21, "align": "center", "baseline": "middle", "angle": 90},
      "encoding": {
        "x": {"datum": 10.238, "type": "quantitative", "scale": {"domain": [5.584, 10.046], "nice": false, "zero": false}},
        "y": {"datum": 0.69, "type": "quantitative", "scale": {"domain": [-0.069, 1.449], "nice": false, "zero": false}},
        "text": {"field": "clarity", "type": "nominal"}
      }
    }
  ]
},
"config": {
  "font": "Liberation Sans",
  "view": {"fill": "#ebebeb", "stroke": null},
  "axis": {
    "domain": false, "grid": true, "gridColor": "#ffffff", "gridOpacity": 1,
    "tickSize": 7, "tickWidth": 1.3, "labelFontSize": 21, "labelColor": "#4d4d4d", "labelFont": "Liberation Sans",
    "labelFlush": false, "labelOverlap": false
  },
  "text": {"font": "Liberation Sans"}
}
}
